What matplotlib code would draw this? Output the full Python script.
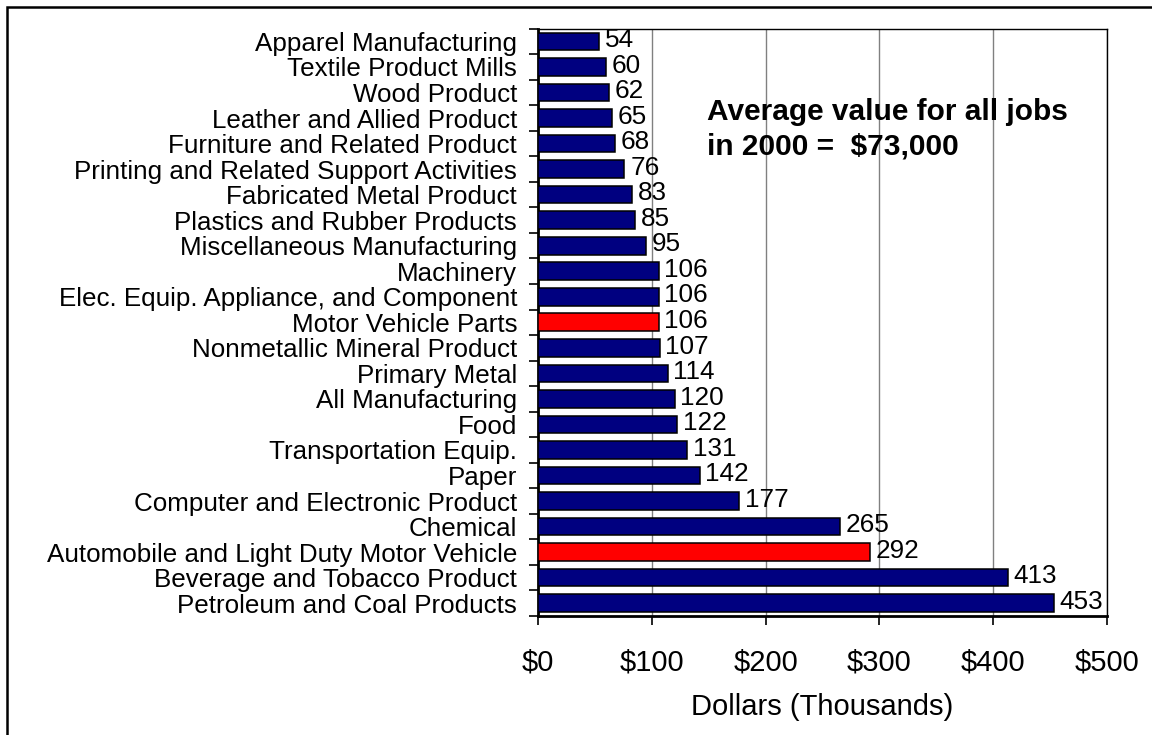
import numpy as np
import matplotlib.pyplot as plt
from matplotlib.patches import Rectangle

plt.rcParams['font.family'] = ['Liberation Sans', 'DejaVu Sans']

# Value added per job by industry, top to bottom
industries = [
    "Apparel Manufacturing",
    "Textile Product Mills",
    "Wood Product",
    "Leather and Allied Product",
    "Furniture and Related Product",
    "Printing and Related Support Activities",
    "Fabricated Metal Product",
    "Plastics and Rubber Products",
    "Miscellaneous Manufacturing",
    "Machinery",
    "Elec. Equip. Appliance, and Component",
    "Motor Vehicle Parts",
    "Nonmetallic Mineral Product",
    "Primary Metal",
    "All Manufacturing",
    "Food",
    "Transportation Equip.",
    "Paper",
    "Computer and Electronic Product",
    "Chemical",
    "Automobile and Light Duty Motor Vehicle",
    "Beverage and Tobacco Product",
    "Petroleum and Coal Products",
]
values = [54, 60, 62, 65, 68, 76, 83, 85, 95, 106, 106, 106, 107,
          114, 120, 122, 131, 142, 177, 265, 292, 413, 453]
highlight = ["Motor Vehicle Parts", "Automobile and Light Duty Motor Vehicle"]
xticks = [0, 100, 200, 300, 400, 500]
xtick_labels = ["$0", "$100", "$200", "$300", "$400", "$500"]

colors = ["#FF0000" if name in highlight else "#000080" for name in industries]
y = np.arange(len(industries))

fig = plt.figure(figsize=(11.52, 7.35), dpi=100)
ax = fig.add_axes([0.467, 0.162, 0.494, 0.799])

ax.barh(y, values, height=0.69, color=colors, edgecolor="black", linewidth=1.1, zorder=3)
for yi, v in zip(y, values):
    ax.text(v + 5, yi - 0.05, str(v), va="center", ha="left", fontsize=18.8, zorder=4)

ax.set_xlim(0, 500)
ax.set_ylim(len(industries) - 0.5, -0.5)

ax.set_xticks(xticks)
ax.set_xticklabels(xtick_labels, fontsize=21)
ax.tick_params(axis="x", direction="out", length=6.5, width=1.2, pad=17)
ax.set_xlabel("Dollars (Thousands)", fontsize=21, labelpad=12)

# category labels centred on bars, tick marks between categories
ax.set_yticks(y)
ax.set_yticklabels(industries, fontsize=18.7)
ax.tick_params(axis="y", which="major", length=0, pad=15)
ax.set_yticks(np.arange(len(industries) + 1) - 0.5, minor=True)
ax.tick_params(axis="y", which="minor", direction="out", length=6.5, width=1.2)

ax.grid(axis="x", color="#808080", linewidth=1, zorder=0)
ax.set_axisbelow(True)

for side in ["left", "bottom"]:
    ax.spines[side].set_linewidth(2)
for side in ["top", "right"]:
    ax.spines[side].set_linewidth(1)

ax.text(148.5, 3.45, "Average value for all jobs\nin 2000 =  $73,000",
        fontsize=21.5, fontweight="bold", ha="left", va="center",
        linespacing=1.3, zorder=5)

# frame around the whole chart
fig.add_artist(Rectangle((0.0065, -0.5), 2, 0.9905 + 0.5, fill=False,
                         edgecolor="black", linewidth=1.8,
                         transform=fig.transFigure))

fig.savefig("out.png", dpi=100)
